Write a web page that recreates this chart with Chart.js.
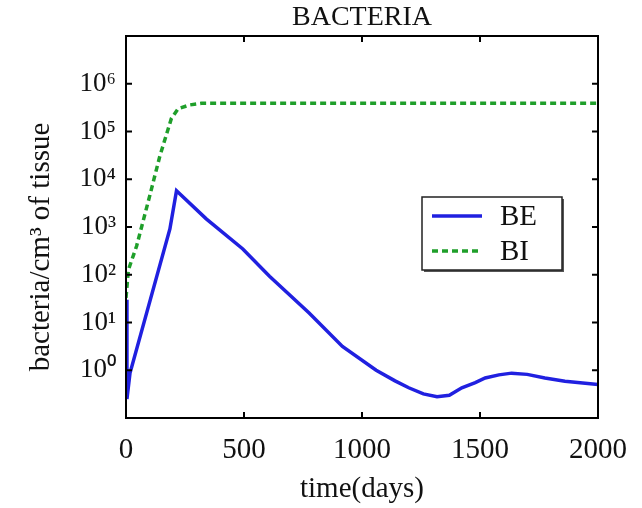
<!DOCTYPE html>
<html>
<head>
<meta charset="utf-8">
<script src="https://cdn.jsdelivr.net/npm/chart.js@4.4.0/dist/chart.umd.min.js"></script>
<style>
html, body { margin: 0; padding: 0; background: #fff; }
#contenedor { width: 642px; height: 508px; }
</style>
</head>
<body>
<div id="contenedor"><canvas id="bacteriaCanvas"></canvas></div>
<script>
/* TEXTOS */
const titulo = "BACTERIA"
const tituloX = "time(days)"
const tituloY = "bacteria/cm³ of tissue"

/* DATOS BE (bacterias extracelulares) */
const diasBE = [0, 4, 17, 186, 214, 340, 495, 608, 776, 917, 1060, 1140, 1198, 1260, 1318, 1370, 1423, 1480, 1522, 1580, 1634, 1700, 1775, 1860, 2000]
const valoresBE = [30, 0.25, 0.87, 910, 5750, 1480, 347, 93, 15.8, 3.16, 1.0, 0.6, 0.43, 0.32, 0.28, 0.3, 0.43, 0.55, 0.69, 0.8, 0.87, 0.82, 0.69, 0.59, 0.5]

/* DATOS BI (bacterias intracelulares) */
const diasBI = [0, 10, 45, 101, 143, 192, 221, 270, 320, 2000]
const valoresBI = [33, 126, 400, 4600, 30000, 186000, 300000, 360000, 390000, 390000]

/* TICKS */
const ticksX = [0, 500, 1000, 1500, 2000]
const etiquetasX = ["0", "500", "1000", "1500", "2000"]
const ticksY = [1, 10, 100, 1000, 10000, 100000, 1000000]
const etiquetasY = ["10⁰", "10¹", "10²", "10³", "10⁴", "10⁵", "10⁶"]

const fuente = "'Liberation Serif', 'Times New Roman', serif"

function armarPuntos(dias, valores) {
    let puntos = []
    for (let i = 0; i < dias.length; i++) {
        puntos.push({ x: dias[i], y: valores[i] })
    }
    return puntos
}

/* marco tipo matlab: caja, ticks hacia adentro, titulos y leyenda dentro del grafico */
const marcoPlugin = {
    id: "marco",
    afterDraw(chart) {
        const ctx = chart.ctx
        const a = chart.chartArea
        const sx = chart.scales.x
        const sy = chart.scales.y
        const largo = 6

        ctx.save()
        ctx.strokeStyle = "#000"
        ctx.lineWidth = 2
        ctx.strokeRect(a.left, a.top, a.right - a.left, a.bottom - a.top)

        ctx.beginPath()
        for (let i = 0; i < ticksX.length; i++) {
            let px = sx.getPixelForValue(ticksX[i])
            ctx.moveTo(px, a.bottom); ctx.lineTo(px, a.bottom - largo)
            ctx.moveTo(px, a.top); ctx.lineTo(px, a.top + largo)
        }
        for (let i = 0; i < ticksY.length; i++) {
            let py = sy.getPixelForValue(ticksY[i])
            ctx.moveTo(a.left, py); ctx.lineTo(a.left + largo, py)
            ctx.moveTo(a.right, py); ctx.lineTo(a.right - largo, py)
        }
        ctx.stroke()

        // titulo centrado sobre los ejes, como en matlab
        ctx.fillStyle = "#111"
        ctx.textAlign = "center"
        ctx.textBaseline = "middle"
        ctx.font = "28px " + fuente
        ctx.fillText(titulo, (a.left + a.right) / 2, 18)

        // titulo del eje y
        ctx.save()
        ctx.translate(41, 247)
        ctx.rotate(-Math.PI / 2)
        ctx.font = "29px " + fuente
        ctx.fillText(tituloY, 0, 0)
        ctx.restore()

        // leyenda
        const caja = { x: 422, y: 197, w: 140, h: 73 }
        ctx.fillStyle = "#555"
        ctx.fillRect(caja.x + 2, caja.y + 2, caja.w, caja.h)
        ctx.fillStyle = "#fff"
        ctx.fillRect(caja.x, caja.y, caja.w, caja.h)
        ctx.lineWidth = 1.5
        ctx.strokeStyle = "#222"
        ctx.strokeRect(caja.x, caja.y, caja.w, caja.h)

        ctx.font = "29px " + fuente
        ctx.textAlign = "left"
        const ds = chart.data.datasets
        for (let i = 0; i < ds.length; i++) {
            let yy = caja.y + 19 + i * 35
            ctx.beginPath()
            ctx.strokeStyle = ds[i].borderColor
            ctx.lineWidth = ds[i].borderWidth
            ctx.setLineDash(ds[i].borderDash || [])
            ctx.moveTo(caja.x + 10, yy)
            ctx.lineTo(caja.x + 60, yy)
            ctx.stroke()
            ctx.setLineDash([])
            ctx.fillStyle = "#111"
            ctx.fillText(ds[i].label, caja.x + 78, yy + 1)
        }
        ctx.restore()
    }
}

let bacteriaCanvas = document.getElementById("bacteriaCanvas").getContext("2d")

let dataBacteriaCanvas = {
    type: "line",
    data: {
        datasets: [{
                label: "BE",
                data: armarPuntos(diasBE, valoresBE),
                borderColor: "#2020e0",
                borderWidth: 3.5,
                pointRadius: 0,
                tension: 0,
                fill: false
            },
            {
                label: "BI",
                data: armarPuntos(diasBI, valoresBI),
                borderColor: "#1f9f2a",
                borderWidth: 3.5,
                borderDash: [6, 4],
                pointRadius: 0,
                tension: 0,
                fill: false
            }
        ]
    },
    options: {
        responsive: true,
        maintainAspectRatio: false,
        animation: false,
        layout: { padding: { left: 0, right: 25, top: 36, bottom: 0 } },
        plugins: {
            legend: { display: false },
            tooltip: { enabled: false },
            title: { display: false }
        },
        scales: {
            x: {
                type: "linear",
                min: 0,
                max: 2000,
                afterBuildTicks: s => { s.ticks = ticksX.map(v => ({ value: v })) },
                afterFit: s => { s.height = 90 },
                grid: { display: false, drawTicks: false },
                border: { display: false },
                ticks: {
                    color: "#111",
                    padding: 15,
                    maxRotation: 0,
                    font: { family: fuente, size: 29 },
                    callback: (v, i) => etiquetasX[i]
                },
                title: {
                    display: true,
                    text: tituloX,
                    color: "#111",
                    font: { family: fuente, size: 29 },
                    padding: { top: 0, bottom: 1 }
                }
            },
            y: {
                type: "logarithmic",
                min: 0.1,
                max: 10000000,
                afterBuildTicks: s => { s.ticks = ticksY.map(v => ({ value: v })) },
                afterFit: s => { s.width = 126 },
                grid: { display: false, drawTicks: false },
                border: { display: false },
                ticks: {
                    color: "#111",
                    padding: 10,
                    font: { family: fuente, size: 27 },
                    callback: (v, i) => etiquetasY[i]
                }
            }
        }
    },
    plugins: [marcoPlugin]
}

var chart = new Chart(bacteriaCanvas, dataBacteriaCanvas)
</script>
</body>
</html>
